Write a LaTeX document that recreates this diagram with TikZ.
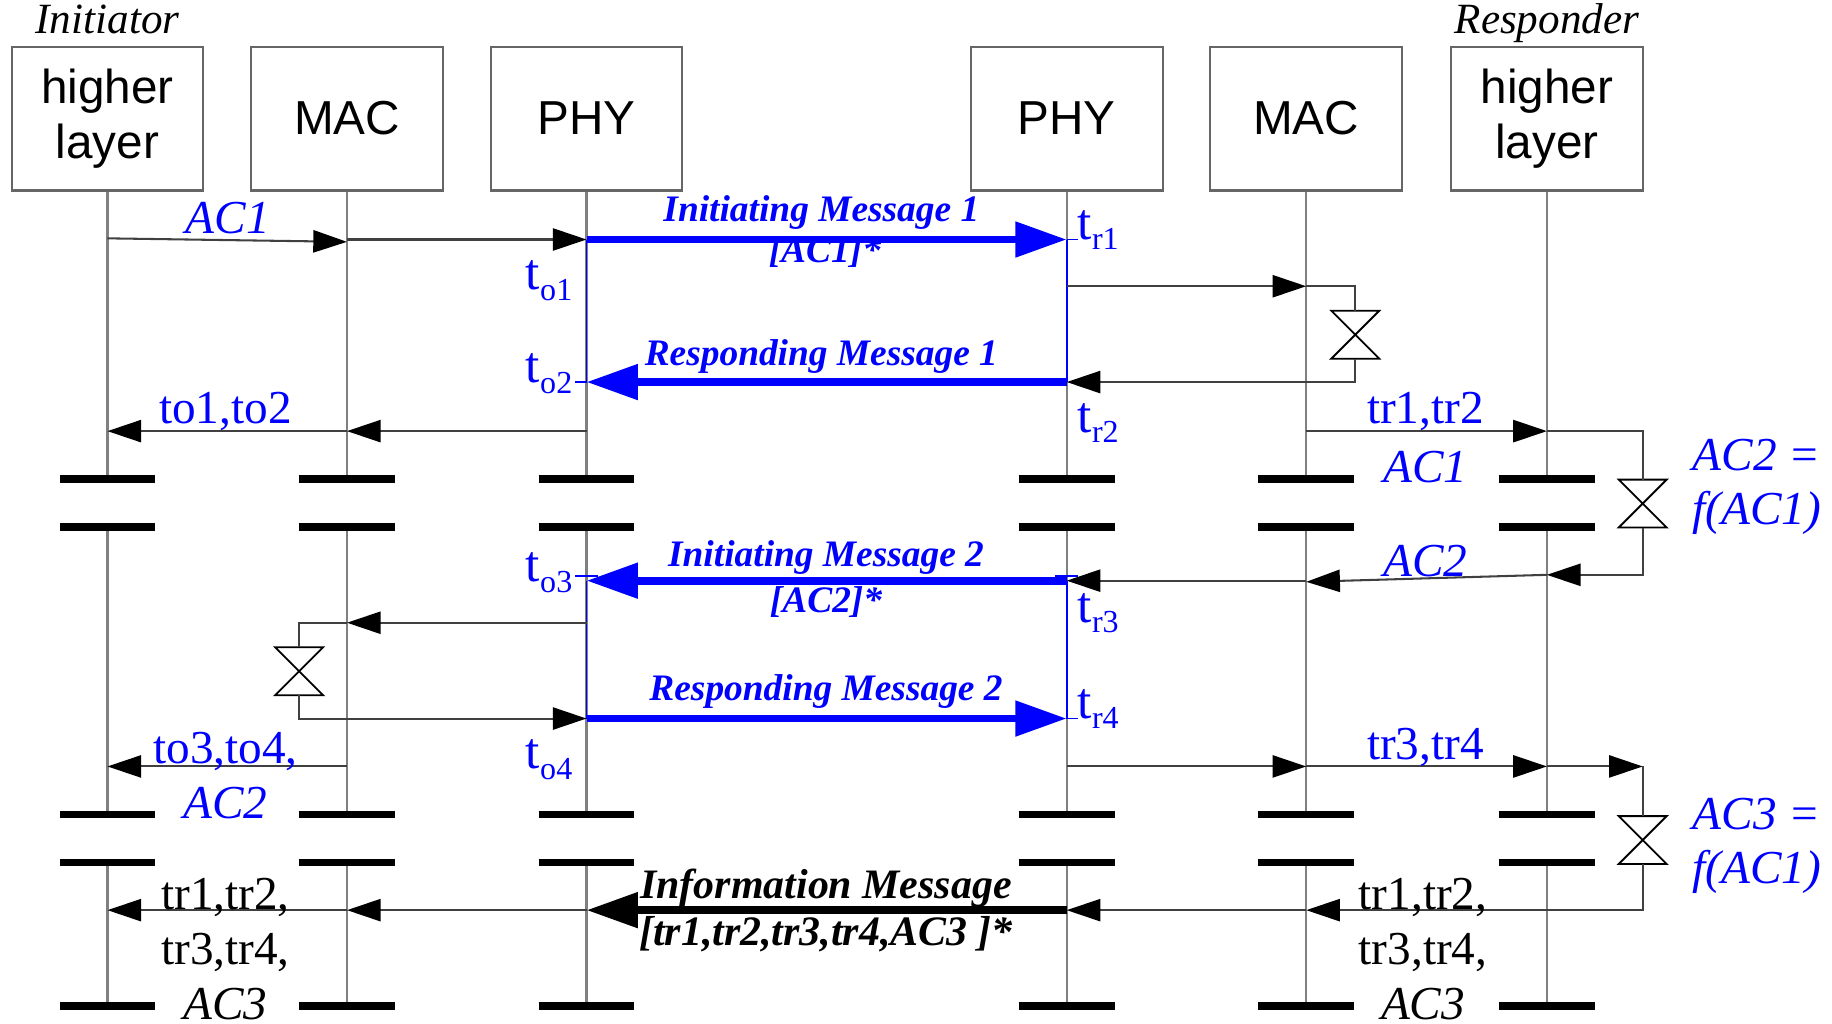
\documentclass[tikz,border=0pt]{standalone}
\usepackage{fontspec}
\setmainfont{Liberation Serif}
\newfontfamily\boxfont{Liberation Sans}
\usepackage{tikz}
\usetikzlibrary{arrows.meta}
\definecolor{msgblue}{RGB}{0,0,255}
\definecolor{lifegray}{HTML}{808080}
\definecolor{linegray}{HTML}{404040}
\newcommand{\tstamp}[1]{t\raisebox{-0.45ex}{\fontsize{7.8}{8}\selectfont #1}}

\begin{document}
\begin{tikzpicture}[
    x=0.01cm, y=-0.01cm,
    every node/.style={inner sep=0pt},
    layerbox/.style={draw=gray!80!black, line width=0.5pt, minimum width=1.64cm, minimum height=1.23cm, align=center, font=\boxfont\fontsize{11.6}{13.4}\selectfont},
    sidelabel/.style={font=\fontsize{10.5}{12}\selectfont\itshape, anchor=base},
    lifeline/.style={lifegray, line width=0.5pt},
    physpan/.style={msgblue, line width=0.45pt},
    breakbar/.style={line width=1.75pt},
    plain/.style={linegray, line width=0.5pt},
    msg/.style={linegray, line width=0.5pt, -{Triangle[length=8.2pt,width=5.4pt,color=black]}},
    bigmsg/.style={msgblue, line width=1.9pt, -{Triangle[length=12.5pt,width=8.3pt]}},
    msgtitle/.style={font=\fontsize{9.1}{10.5}\selectfont\bfseries\itshape, text=msgblue},
    infotitle/.style={font=\fontsize{10.2}{11.5}\selectfont\bfseries\itshape},
    stamp/.style={font=\fontsize{12.5}{13}\selectfont, text=msgblue},
    note/.style={font=\fontsize{11.5}{13.4}\selectfont, align=center},
    noteit/.style={font=\fontsize{11.5}{13.2}\selectfont\itshape, align=left, text=msgblue, anchor=west},
    hglass/.pic={
        \draw[black, line width=0.45pt, fill=white] (-20.5,-20.5) -- (20.5,-20.5) -- (-20.5,20.5) -- (20.5,20.5) -- cycle;
        \coordinate (-top) at (0,-20.5);
        \coordinate (-bot) at (0,20.5);
    },
]
\useasboundingbox (0,0) rectangle (1568,876);
\node[sidelabel] (initiator) at (92,29) {Initiator};
\node[sidelabel] (responder) at (1324,29) {Responder};
\node[layerbox] (hlI) at (92,101.5) {\rule{0pt}{0.6em}higher\\layer};
\node[layerbox] (macI) at (297,101.5) {MAC};
\node[layerbox] (phyI) at (502,101.5) {PHY};
\node[layerbox] (phyR) at (913,101.5) {PHY};
\node[layerbox] (macR) at (1118,101.5) {MAC};
\node[layerbox] (hlR) at (1324,101.5) {\rule{0pt}{0.6em}higher\\layer};
% lifelines, broken twice
\foreach \n in {hlI,macI,phyI,phyR,macR,hlR} {
    \draw[lifeline] (\n.south) -- (\n |- 0,410);
    \draw[lifeline] (\n |- 0,451) -- (\n |- 0,697);
    \draw[lifeline] (\n |- 0,738) -- (\n |- 0,861);
    \foreach \y in {410,451,697,738,861}
        \draw[breakbar] (\n |- 0,\y) ++(-41,0) -- ++(82,0);
}
\foreach \n in {phyI,phyR} {
    \draw[physpan] (\n |- 0,205) -- (\n |- 0,327);
    \draw[physpan] (\n |- 0,497) -- (\n |- 0,615);
}
\pic (hgA) at (1160,286.5) {hglass};
\pic (hgB) at (1406,431) {hglass};
\pic (hgC) at (256,574.5) {hglass};
\pic (hgD) at (1406,719) {hglass};
% exchange 1
\draw[msg] (hlI |- 0,204) -- (macI |- 0,207);
\draw[msg] (macI |- 0,205) -- (phyI |- 0,205);
\draw[bigmsg] (phyI |- 0,205) -- (phyR |- 0,205);
\draw[msg] (phyR |- 0,245) -- (macR |- 0,245);
\draw[plain] (macR |- 0,245) -| (hgA-top);
\draw[plain] (hgA-bot) |- (macR |- 0,327);
\draw[msg] (macR |- 0,327) -- (phyR |- 0,327);
\draw[bigmsg] (phyR |- 0,327) -- (phyI |- 0,327);
\draw[msg] (phyI |- 0,369) -- (macI |- 0,369);
\draw[msg] (macI |- 0,369) -- (hlI |- 0,369);
\draw[msg] (macR |- 0,369) -- (hlR |- 0,369);
\draw[plain] (hlR |- 0,369) -| (hgB-top);
% exchange 2
\draw[msg] (hgB-bot) |- (hlR |- 0,492);
\draw[msg] (hlR |- 0,492) -- (macR |- 0,498);
\draw[msg] (macR |- 0,497) -- (phyR |- 0,497);
\draw[bigmsg] (phyR |- 0,497) -- (phyI |- 0,497);
\draw[msg] (phyI |- 0,533) -- (macI |- 0,533);
\draw[plain] (macI |- 0,533) -| (hgC-top);
\draw[msg] (hgC-bot) |- (phyI |- 0,615);
\draw[bigmsg] (phyI |- 0,615) -- (phyR |- 0,615);
\draw[msg] (macI |- 0,656) -- (hlI |- 0,656);
\draw[msg] (phyR |- 0,656) -- (macR |- 0,656);
\draw[msg] (macR |- 0,656) -- (hlR |- 0,656);
\draw[msg] (hlR |- 0,656) -- (hgD-top |- 0,656);
\draw[plain] (hgD-top |- 0,656) -- (hgD-top);
% information message
\draw[msg] (hgD-bot) |- (macR |- 0,779);
\draw[msg] (macR |- 0,779) -- (phyR |- 0,779);
\draw[bigmsg, black] (phyR |- 0,779) -- (phyI |- 0,779);
\draw[msg] (phyI |- 0,779) -- (macI |- 0,779);
\draw[msg] (macI |- 0,779) -- (hlI |- 0,779);
% time stamp ticks
\draw[physpan] (phyR |- 0,205) -- ++(10,0);
\draw[physpan] (phyI |- 0,327) -- ++(-10,0);
\draw[physpan] (phyI |- 0,493) ++(-10,0) -- ++(20,0);
\draw[physpan] (phyR |- 0,493) ++(-10,0) -- ++(20,0);
\draw[physpan] (phyR |- 0,615) -- ++(10,0);
\node[msgtitle] (imOne) at (703,182) {Initiating Message 1};
\node[msgtitle] (imOneArg) at (706,216) {[AC1]*};
\node[msgtitle] (rmOne) at (703,305) {Responding Message 1};
\node[msgtitle] (imTwo) at (707,477) {Initiating Message 2};
\node[msgtitle] (imTwoArg) at (707,515) {[AC2]*};
\node[msgtitle] (rmTwo) at (707,592) {Responding Message 2};
\node[infotitle] (info) at (707,760) {Information Message};
\node[infotitle] (infoArg) at (707,800) {[tr1,tr2,tr3,tr4,AC3 ]*};
\node[stamp] (tOone) at (470,240) {\tstamp{o1}};
\node[stamp] (tOtwo) at (470,320) {\tstamp{o2}};
\node[stamp] (tOthree) at (470,490) {\tstamp{o3}};
\node[stamp] (tOfour) at (470,650) {\tstamp{o4}};
\node[stamp] (tRone) at (940,197) {\tstamp{r1}};
\node[stamp] (tRtwo) at (940,362) {\tstamp{r2}};
\node[stamp] (tRthree) at (940,525) {\tstamp{r3}};
\node[stamp] (tRfour) at (940,607) {\tstamp{r4}};
\node[note, text=msgblue] (acOne) at (195,187) {\textit{AC1}};
\node[note, text=msgblue] (toOneTwo) at (193,352) {to1,to2};
\node[note, text=msgblue] (toThreeFour) at (193,664) {to3,to4,\\\textit{AC2}};
\node[note] (trAllI) at (193,812) {tr1,tr2,\\tr3,tr4,\\\textit{AC3}};
\node[note, text=msgblue] (trOneTwo) at (1220,352) {tr1,tr2};
\node[note, text=msgblue] (acOneR) at (1220,400) {\textit{AC1}};
\node[note, text=msgblue] (acTwoR) at (1220,480) {\textit{AC2}};
\node[note, text=msgblue] (trThreeFour) at (1220,640) {tr3,tr4};
\node[note] (trAllR) at (1218,812) {tr1,tr2,\\tr3,tr4,\\\textit{AC3}};
\node[noteit] (fTwo) at (1448,417) {AC2 =\\f(AC1)};
\node[noteit] (fThree) at (1448,724) {AC3 =\\f(AC1)};
\end{tikzpicture}
\end{document}
